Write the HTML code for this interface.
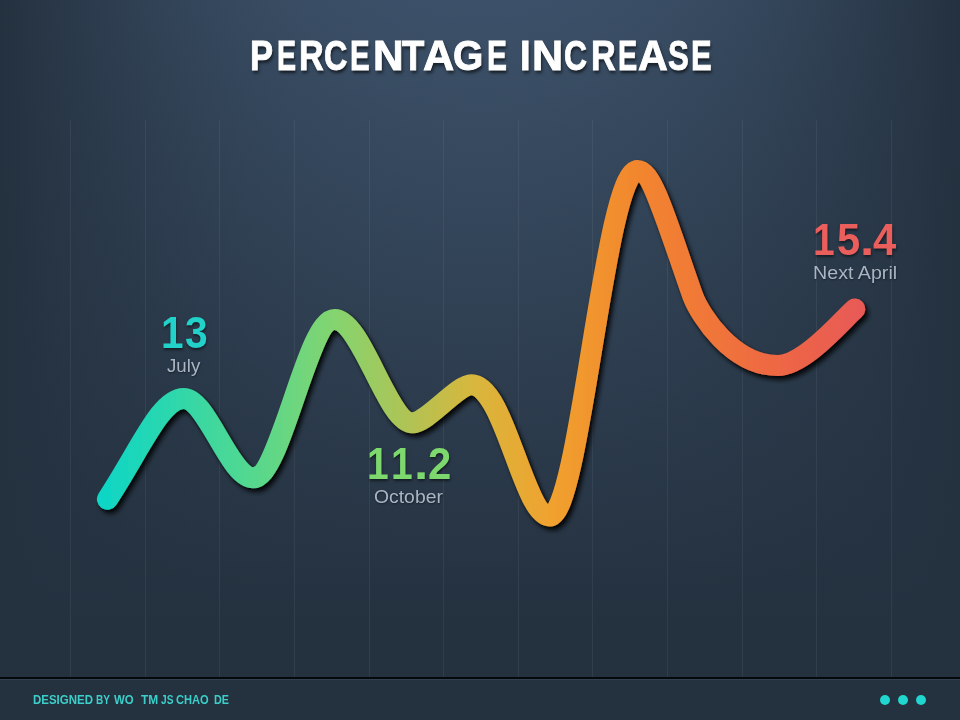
<!DOCTYPE html>
<html>
<head>
<meta charset="utf-8">
<title>Percentage Increase</title>
<style>
  html, body { margin: 0; padding: 0; }
  body {
    width: 960px; height: 720px; overflow: hidden; position: relative;
    background: #24313f;
    font-family: "Liberation Sans", sans-serif;
  }
  #bg {
    position: absolute; left: 0; top: 0; width: 960px; height: 720px;
    background: linear-gradient(to right, rgba(36,49,63,1.000) 0px, rgba(36,49,63,0.810) 48px, rgba(36,49,63,0.640) 96px, rgba(36,49,63,0.490) 144px, rgba(36,49,63,0.360) 192px, rgba(36,49,63,0.250) 240px, rgba(36,49,63,0.160) 288px, rgba(36,49,63,0.090) 336px, rgba(36,49,63,0.040) 384px, rgba(36,49,63,0.010) 432px, rgba(36,49,63,0.000) 480px, rgba(36,49,63,0.010) 528px, rgba(36,49,63,0.040) 576px, rgba(36,49,63,0.090) 624px, rgba(36,49,63,0.160) 672px, rgba(36,49,63,0.250) 720px, rgba(36,49,63,0.360) 768px, rgba(36,49,63,0.490) 816px, rgba(36,49,63,0.640) 864px, rgba(36,49,63,0.810) 912px, rgba(36,49,63,1.000) 960px), linear-gradient(to bottom, #3c5169 0px, #24313f 620px, #24313f 720px);
  }
  .grid { position: absolute; top: 120px; width: 1px; height: 557px; background: rgba(255,255,255,0.058); }
  .tw {
    position: absolute; font-weight: bold; color: #fff; white-space: nowrap; transform-origin: 0 0;
    -webkit-text-stroke: 0.9px #fff;
    text-shadow: 1.5px 2.5px 3.5px rgba(0,0,0,0.6);
  }
  .num { position: absolute; font-weight: bold; white-space: nowrap; transform-origin: 0 0; text-shadow: 0.5px 2px 3px rgba(0,0,0,0.5); }
  .b1 { position: absolute; box-shadow: 0.5px 2px 3px rgba(0,0,0,0.5); }
  .lab { position: absolute; white-space: nowrap; transform-origin: 0 0; color: #a9b5c3; text-shadow: 0.5px 1px 2px rgba(0,0,0,0.45); }
  .ft { position: absolute; font-weight: bold; white-space: nowrap; transform-origin: 0 0; color: #3ccfc9; }
  #footline { position: absolute; left: 0; top: 677px; width: 960px; height: 2px; background: #06090c; }
  #footline2 { position: absolute; left: 0; top: 679px; width: 960px; height: 1px; background: #344150; }
  .dot { position: absolute; top: 694.5px; width: 10px; height: 10px; border-radius: 50%; background: #20d6ce; }
  svg { position: absolute; left: 0; top: 0; }
</style>
</head>
<body>
<div id="bg"></div>
<div class="grid" style="left:70px"></div>
<div class="grid" style="left:145px"></div>
<div class="grid" style="left:219px"></div>
<div class="grid" style="left:294px"></div>
<div class="grid" style="left:369px"></div>
<div class="grid" style="left:443px"></div>
<div class="grid" style="left:518px"></div>
<div class="grid" style="left:592px"></div>
<div class="grid" style="left:667px"></div>
<div class="grid" style="left:742px"></div>
<div class="grid" style="left:816px"></div>
<div class="grid" style="left:891px"></div>

<div class="tw" style="left:250.13px;top:34.33px;font-size:43.2px;line-height:43.2px;transform:scaleX(0.8021);">P</div>
<div class="tw" style="left:276.52px;top:34.33px;font-size:43.2px;line-height:43.2px;transform:scaleX(0.6633);">E</div>
<div class="tw" style="left:298.95px;top:34.33px;font-size:43.2px;line-height:43.2px;transform:scaleX(0.7934);">R</div>
<div class="tw" style="left:324.08px;top:34.33px;font-size:43.2px;line-height:43.2px;transform:scaleX(0.7496);">C</div>
<div class="tw" style="left:350.16px;top:34.33px;font-size:43.2px;line-height:43.2px;transform:scaleX(0.6838);">E</div>
<div class="tw" style="left:373.42px;top:34.33px;font-size:43.2px;line-height:43.2px;transform:scaleX(0.9823);">N</div>
<div class="tw" style="left:402.47px;top:34.33px;font-size:43.2px;line-height:43.2px;transform:scaleX(0.8465);">T</div>
<div class="tw" style="left:422.73px;top:34.33px;font-size:43.2px;line-height:43.2px;transform:scaleX(1.0017);">A</div>
<div class="tw" style="left:453.01px;top:34.33px;font-size:43.2px;line-height:43.2px;transform:scaleX(0.9021);">G</div>
<div class="tw" style="left:486.74px;top:34.33px;font-size:43.2px;line-height:43.2px;transform:scaleX(0.6920);">E</div>
<div class="tw" style="left:519.88px;top:34.33px;font-size:43.2px;line-height:43.2px;transform:scaleX(0.8884);">I</div>
<div class="tw" style="left:532.07px;top:34.33px;font-size:43.2px;line-height:43.2px;transform:scaleX(0.9979);">N</div>
<div class="tw" style="left:564.10px;top:34.33px;font-size:43.2px;line-height:43.2px;transform:scaleX(0.7390);">C</div>
<div class="tw" style="left:590.65px;top:34.33px;font-size:43.2px;line-height:43.2px;transform:scaleX(0.7934);">R</div>
<div class="tw" style="left:617.71px;top:34.33px;font-size:43.2px;line-height:43.2px;transform:scaleX(0.6674);">E</div>
<div class="tw" style="left:637.78px;top:34.33px;font-size:43.2px;line-height:43.2px;transform:scaleX(0.9572);">A</div>
<div class="tw" style="left:667.60px;top:34.33px;font-size:43.2px;line-height:43.2px;transform:scaleX(0.7230);">S</div>
<div class="tw" style="left:691.07px;top:34.33px;font-size:43.2px;line-height:43.2px;transform:scaleX(0.7165);">E</div>

<svg width="960" height="720" viewBox="0 0 960 720">
  <defs>
    <linearGradient id="lg" gradientUnits="userSpaceOnUse" x1="97" y1="0" x2="866" y2="0">
<stop offset="0.0000" stop-color="#0dd6c8"/>
      <stop offset="0.0143" stop-color="#10d6c4"/>
      <stop offset="0.1131" stop-color="#33d7a8"/>
      <stop offset="0.2029" stop-color="#55d88e"/>
      <stop offset="0.3095" stop-color="#84d46f"/>
      <stop offset="0.4109" stop-color="#b3c253"/>
      <stop offset="0.4876" stop-color="#d7b73d"/>
      <stop offset="0.5891" stop-color="#f0a22f"/>
      <stop offset="0.7035" stop-color="#f2862e"/>
      <stop offset="0.8856" stop-color="#ee6744"/>
      <stop offset="0.9844" stop-color="#e85b55"/>
      <stop offset="1.0000" stop-color="#e75956"/>
    </linearGradient>
    <filter id="sh" x="-10%" y="-10%" width="120%" height="120%">
      <feGaussianBlur in="SourceAlpha" stdDeviation="2.7" result="b1"/>
      <feOffset in="b1" dx="3.4" dy="3.6" result="o1"/>
      <feComponentTransfer in="o1" result="s1"><feFuncA type="linear" slope="0.85"/></feComponentTransfer>
      <feGaussianBlur in="SourceAlpha" stdDeviation="0.9" result="b2"/>
      <feOffset in="b2" dx="0.6" dy="0.6" result="o2"/>
      <feComponentTransfer in="o2" result="s2"><feFuncA type="linear" slope="0.45"/></feComponentTransfer>
      <feMerge><feMergeNode in="s1"/><feMergeNode in="s2"/><feMergeNode in="SourceGraphic"/></feMerge>
    </filter>
  </defs>
  <path filter="url(#sh)" fill="none" stroke="url(#lg)" stroke-width="21" stroke-linecap="round" stroke-linejoin="round"
    d="M107.4,499.2 C141.3,447.4 160.7,398.4 183.7,398.4 C207.2,398.4 229.3,477.7 253.3,477.7 C280.8,477.7 307.1,319.4 334.6,319.4 C361.6,319.4 387.3,422.8 412.3,422.8 C427.3,422.8 457.0,384.8 471.5,384.8 C504.5,384.8 523.3,515.9 549.8,515.9 C579.8,515.9 605.0,170.4 637.5,170.4 C652.4,170.4 667.0,223.0 692.8,296.0 C700.3,315.6 732.5,365.5 777.8,365.5 C804.7,365.5 844.2,317.9 854.8,309.0"/>
</svg>

<div class="num" style="left:160.65px;top:312.09px;font-size:43.6px;line-height:43.6px;transform:scaleX(0.9296);color:#22d1c9">1</div>
<div class="num" style="left:185.03px;top:312.09px;font-size:43.6px;line-height:43.6px;transform:scaleX(0.9367);color:#22d1c9">3</div>
<div class="lab" style="left:167.25px;top:357.16px;font-size:18px;line-height:18px;transform:scaleX(1.0398);">July</div>
<div class="num" style="left:367.24px;top:442.79px;font-size:43.6px;line-height:43.6px;transform:scaleX(0.8953);color:#7dd96d">1</div>
<div class="num" style="left:391.14px;top:442.79px;font-size:43.6px;line-height:43.6px;transform:scaleX(0.8953);color:#7dd96d">1</div>
<div class="num" style="left:413.62px;top:442.79px;font-size:43.6px;line-height:43.6px;transform:scaleX(1.1769);color:#7dd96d">.</div>
<div class="num" style="left:427.73px;top:442.79px;font-size:43.6px;line-height:43.6px;transform:scaleX(0.9595);color:#7dd96d">2</div>
<div class="lab" style="left:374.11px;top:487.96px;font-size:18px;line-height:18px;transform:scaleX(1.0755);">October</div>
<div class="num" style="left:813.14px;top:218.79px;font-size:43.6px;line-height:43.6px;transform:scaleX(0.8953);color:#ea5f5c">1</div>
<div class="num" style="left:836.59px;top:218.79px;font-size:43.6px;line-height:43.6px;transform:scaleX(0.9560);color:#ea5f5c">5</div>
<div class="num" style="left:859.62px;top:218.79px;font-size:43.6px;line-height:43.6px;transform:scaleX(1.1769);color:#ea5f5c">.</div>
<div class="num" style="left:873.12px;top:218.79px;font-size:43.6px;line-height:43.6px;transform:scaleX(0.9569);color:#ea5f5c">4</div>
<div class="lab" style="left:812.51px;top:263.56px;font-size:18px;line-height:18px;transform:scaleX(1.0922);">Next April</div>

<div id="footline"></div>
<div id="footline2"></div>
<div class="ft" style="left:33.47px;top:693.20px;font-size:13px;line-height:13px;transform:scaleX(0.8831);">DESIGNED</div>
<div class="ft" style="left:95.86px;top:693.20px;font-size:13px;line-height:13px;transform:scaleX(0.7720);">BY</div>
<div class="ft" style="left:114.45px;top:693.20px;font-size:13px;line-height:13px;transform:scaleX(0.8764);">WO</div>
<div class="ft" style="left:141.26px;top:693.20px;font-size:13px;line-height:13px;transform:scaleX(0.9168);">TM</div>
<div class="ft" style="left:161.38px;top:693.20px;font-size:13px;line-height:13px;transform:scaleX(0.7841);">JS</div>
<div class="ft" style="left:175.71px;top:693.20px;font-size:13px;line-height:13px;transform:scaleX(0.8560);">CHAO</div>
<div class="ft" style="left:214.01px;top:693.20px;font-size:13px;line-height:13px;transform:scaleX(0.8314);">DE</div>
<div class="dot" style="left:879.5px"></div>
<div class="dot" style="left:897.5px"></div>
<div class="dot" style="left:915.5px"></div>
</body>
</html>
